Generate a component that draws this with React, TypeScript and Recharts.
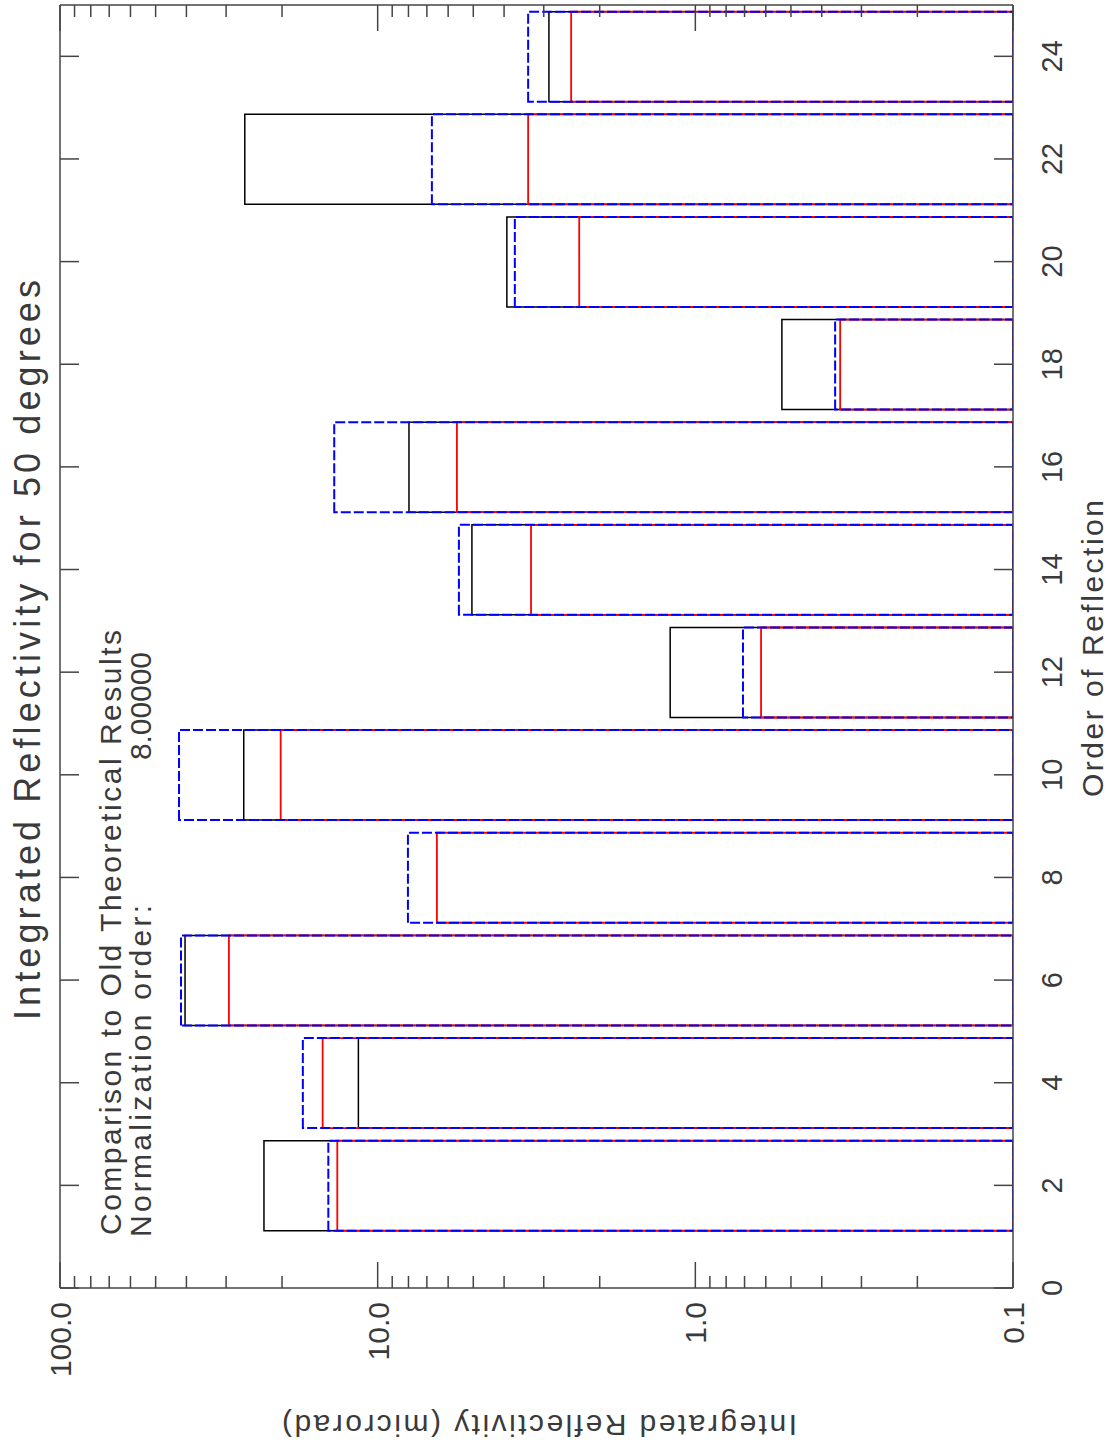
import { ComposedChart, Bar, XAxis, YAxis, Customized } from 'recharts';

// order of reflection (each group is centred on an even order)
const orders = [2, 4, 6, 8, 10, 12, 14, 16, 18, 20, 22, 24];
// integrated reflectivity, microrad
const measured = [22.8, 11.5, 40.4, null, 26.4, 1.2, 5.05, 7.97, 0.534, 3.92, 26.2, 2.89];
const newTheory = [13.4, 14.9, 29.4, 6.51, 20.2, 0.621, 3.29, 5.63, 0.35, 2.32, 3.36, 2.46];
const oldTheory = [14.3, 17.2, 41.6, 8.03, 42.2, 0.708, 5.55, 13.7, 0.363, 3.7, 6.75, 3.36];

const orderTicks = [0, 2, 4, 6, 8, 10, 12, 14, 16, 18, 20, 22, 24];
const majorTicks = [0.1, 1, 10, 100];
const majorLabels = ['0.1', '1.0', '10.0', '100.0'];
const minorTicks = [
  0.2, 0.3, 0.4, 0.5, 0.6, 0.7, 0.8, 0.9,
  2, 3, 4, 5, 6, 7, 8, 9,
  20, 30, 40, 50, 60, 70, 80, 90,
];

const rows = orders.map((order, i) => ({
  order,
  measured: measured[i],
  newTheory: newTheory[i],
  oldTheory: oldTheory[i],
}));

const FONT = '"Liberation Sans", Arial, sans-serif';
const INK = '#3a3a3a';
const AXIS = '#444';

const OrderTickBottom = (props: any) => {
  const { x, y, payload } = props;
  return (
    <g>
      <line x1={x} y1={y} x2={x} y2={y - 19} stroke={AXIS} strokeWidth={1.5} />
      <text x={x} y={y + 49} textAnchor="middle" fontFamily={FONT} fontSize={29} fill={INK}>
        {payload.value}
      </text>
    </g>
  );
};

const OrderTickTop = (props: any) => {
  const { x, y } = props;
  return <line x1={x} y1={y} x2={x} y2={y + 19} stroke={AXIS} strokeWidth={1.5} />;
};

const LogTickLeft = (props: any) => {
  const { x, y, payload } = props;
  const k = majorTicks.indexOf(payload.value);
  return (
    <g>
      <line x1={x} y1={y} x2={x + (k >= 0 ? 26 : 12)} y2={y} stroke={AXIS} strokeWidth={1.5} />
      {k >= 0 && (
        <text x={x - 14} y={y + 11} textAnchor="end" fontFamily={FONT} fontSize={30} fill={INK}>
          {majorLabels[k]}
        </text>
      )}
    </g>
  );
};

const LogTickRight = (props: any) => {
  const { x, y, payload } = props;
  const major = majorTicks.includes(payload.value);
  return <line x1={x} y1={y} x2={x - (major ? 26 : 12)} y2={y} stroke={AXIS} strokeWidth={1.5} />;
};

const Annotations = () => (
  <g fontFamily={FONT} fill={INK}>
    <text x={428} y={40} fontSize={36} textLength={740} lengthAdjust="spacing">
      Integrated Reflectivity for 50 degrees
    </text>
    <text x={213} y={121} fontSize={30} textLength={605} lengthAdjust="spacing">
      Comparison to Old Theoretical Results
    </text>
    <text x={211} y={151} fontSize={30} textLength={332} lengthAdjust="spacing">
      Normalization order:
    </text>
    <text x={688} y={151} fontSize={30} textLength={108} lengthAdjust="spacing">
      8.00000
    </text>
    <text x={651} y={1103} fontSize={30} textLength={297} lengthAdjust="spacing">
      Order of Reflection
    </text>
    <text transform="rotate(-90)" x={-797} y={33} fontSize={30} textLength={515} lengthAdjust="spacing">
      Integrated Reflectivity (microrad)
    </text>
  </g>
);

export default function App() {
  const allLogTicks = [...majorTicks, ...minorTicks];
  return (
    <div style={{ position: 'absolute', left: 0, top: 0, width: 1112, height: 1448, overflow: 'hidden', background: '#fff' }}>
      <div
        style={{
          position: 'absolute',
          left: 0,
          top: 0,
          width: 1448,
          height: 1112,
          transformOrigin: '0 0',
          transform: 'translateY(1448px) rotate(-90deg)',
        }}
      >
        <ComposedChart
          width={1448}
          height={1112}
          data={rows}
          margin={{ top: 0, right: 0, bottom: 0, left: 0 }}
          barSize={90}
          barGap={-90}
        >
          <XAxis
            dataKey="order"
            type="number"
            domain={[0, 25]}
            ticks={orderTicks}
            interval={0}
            height={99}
            allowDataOverflow
            axisLine={{ stroke: AXIS, strokeWidth: 1.5 }}
            tickLine={false}
            tickSize={0}
            tickMargin={0}
            tick={<OrderTickBottom />}
          />
          <XAxis
            xAxisId="top"
            orientation="top"
            dataKey="order"
            type="number"
            domain={[0, 25]}
            ticks={orderTicks}
            interval={0}
            height={60}
            allowDataOverflow
            axisLine={{ stroke: AXIS, strokeWidth: 1.5 }}
            tickLine={false}
            tickSize={0}
            tickMargin={0}
            tick={<OrderTickTop />}
          />
          <YAxis
            scale="log"
            type="number"
            domain={[0.1, 100]}
            ticks={allLogTicks}
            interval={0}
            width={160}
            allowDataOverflow
            axisLine={{ stroke: AXIS, strokeWidth: 1.5 }}
            tickLine={false}
            tickSize={0}
            tickMargin={0}
            tick={<LogTickLeft />}
          />
          <YAxis
            yAxisId="right"
            orientation="right"
            scale="log"
            type="number"
            domain={[0.1, 100]}
            ticks={allLogTicks}
            interval={0}
            width={5}
            allowDataOverflow
            axisLine={{ stroke: AXIS, strokeWidth: 1.5 }}
            tickLine={false}
            tickSize={0}
            tickMargin={0}
            tick={<LogTickRight />}
          />
          <Bar dataKey="measured" fill="none" stroke="#000" strokeWidth={1.5} isAnimationActive={false} />
          <Bar dataKey="newTheory" fill="none" stroke="#ff0000" strokeWidth={1.8} isAnimationActive={false} />
          <Bar
            dataKey="oldTheory"
            fill="none"
            stroke="#0000ff"
            strokeWidth={2}
            strokeDasharray="10 3"
            isAnimationActive={false}
          />
          <Customized component={<Annotations />} />
        </ComposedChart>
      </div>
    </div>
  );
}
